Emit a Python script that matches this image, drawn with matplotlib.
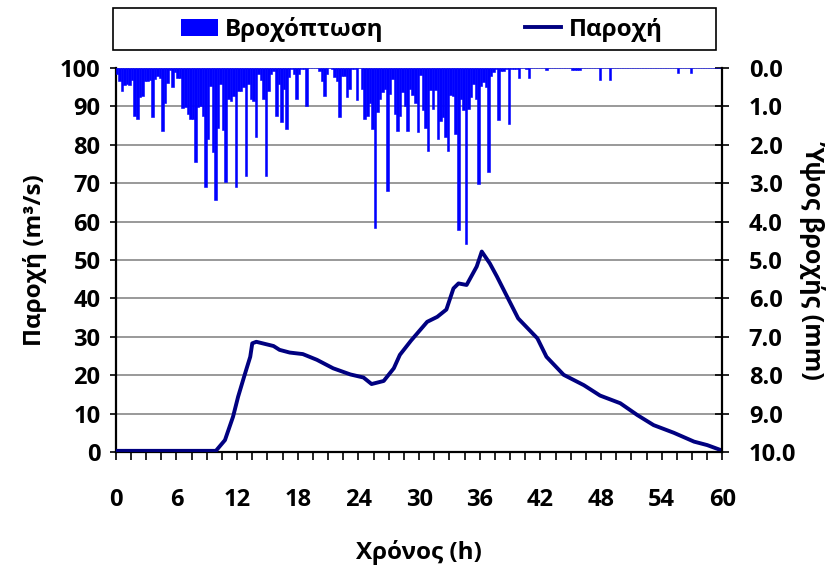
import matplotlib
matplotlib.use('Agg')
import matplotlib.pyplot as plt
import numpy as np
from matplotlib.patches import Rectangle, Patch
from matplotlib.lines import Line2D

plt.rcParams['font.family'] = ['Open Sans', 'DejaVu Sans']
plt.rcParams['font.weight'] = 'bold'

# rainfall depth (mm) every 0.25 h, 0 - 60 h
rain = [
    0.15, 0.35, 0.60, 0.45, 0.42, 0.44, 0.30, 1.24, 1.33, 0.75, 0.73, 0.33,
    0.33, 0.30, 1.27, 0.28, 0.20, 0.25, 1.65, 0.90, 0.40, 0.05, 0.50, 0.10,
    0.25, 0.25, 1.05, 1.02, 1.20, 1.33, 1.33, 2.46, 1.02, 0.98, 1.24, 3.10,
    1.85, 0.46, 2.20, 3.44, 1.55, 0.42, 1.61, 2.98, 0.82, 0.85, 0.72, 3.10,
    0.59, 0.60, 0.50, 2.82, 0.42, 0.80, 0.85, 1.79, 0.16, 0.31, 0.80, 2.80,
    0.60, 0.16, 0.07, 1.24, 0.42, 1.41, 0.55, 1.60, 0.23, 0.03, 0.16, 0.82,
    0.16, 0.03, 0.03, 0.98, 0.00, 0.00, 0.00, 0.00, 0.09, 0.35, 0.72, 0.16,
    0.00, 0.03, 0.24, 0.35, 1.27, 0.20, 0.20, 0.75, 0.55, 0.03, 0.03, 0.83,
    0.00, 0.55, 1.33, 1.24, 0.90, 1.59, 4.17, 1.15, 0.80, 0.63, 0.55, 3.19,
    0.68, 0.29, 1.20, 1.63, 1.24, 0.63, 0.98, 1.63, 0.55, 0.69, 0.92, 1.66,
    0.17, 1.10, 1.55, 2.15, 0.57, 1.07, 0.57, 1.85, 1.37, 1.27, 1.80, 2.17,
    0.70, 0.73, 1.72, 4.21, 0.80, 1.10, 4.58, 1.07, 0.76, 0.42, 0.80, 3.02,
    0.46, 0.37, 0.50, 2.72, 0.20, 0.11, 0.03, 1.35, 0.09, 0.09, 0.03, 1.46,
    0.03, 0.03, 0.03, 0.26, 0.00, 0.00, 0.03, 0.26, 0.00, 0.00, 0.00, 0.00,
    0.00, 0.00, 0.05, 0.00, 0.00, 0.00, 0.00, 0.00, 0.00, 0.00, 0.00, 0.00,
    0.05, 0.05, 0.05, 0.05, 0.00, 0.00, 0.00, 0.00, 0.00, 0.00, 0.00, 0.31,
    0.00, 0.00, 0.00, 0.31, 0.00, 0.00, 0.00, 0.00, 0.00, 0.00, 0.00, 0.00,
    0.00, 0.00, 0.00, 0.00, 0.00, 0.00, 0.00, 0.00, 0.00, 0.00, 0.00, 0.00,
    0.00, 0.00, 0.00, 0.00, 0.00, 0.00, 0.14, 0.00, 0.00, 0.00, 0.00, 0.14,
    0.00, 0.00, 0.00, 0.00, 0.00, 0.00, 0.00, 0.00, 0.00, 0.00, 0.00, 0.00,
]
rain_step = 0.25

# discharge (m3/s)
flow_t = [0, 9.9, 10.8, 11.6, 12.1, 12.6, 12.9, 13.3, 13.5, 13.9, 15.6, 16.2,
          17.2, 18.5, 19.9, 21.5, 23.2, 24.5, 25.3, 26.5, 27.5, 28.1, 29.2,
          30.8, 31.8, 32.7, 33.4, 33.9, 34.7, 35.7, 36.2, 37.0, 37.7, 38.7,
          39.8, 41.7, 42.6, 44.3, 46.3, 47.9, 49.9, 51.6, 53.2, 55.2, 57.2,
          58.5, 60]
flow_q = [0.3, 0.3, 3.1, 9.2, 14.4, 18.8, 21.4, 24.8, 28.3, 28.7, 27.6, 26.6,
          25.9, 25.5, 24.0, 21.8, 20.2, 19.4, 17.7, 18.5, 21.8, 25.3, 29.0,
          33.9, 35.2, 37.1, 42.6, 43.9, 43.5, 48.3, 52.2, 49.1, 45.7, 40.5,
          34.8, 29.6, 24.8, 20.1, 17.4, 14.7, 12.7, 9.6, 7.0, 5.0, 2.7,
          1.8, 0.35]

xticks = np.arange(0, 61, 6)
q_ticks = np.arange(0, 101, 10)
r_ticks = np.arange(0, 11, 1)

fig = plt.figure(figsize=(8.39, 5.71), dpi=100)
ax = fig.add_axes([0.138, 0.2084, 0.723, 0.6725])
ax2 = ax.twinx()

ax.plot(flow_t, flow_q, color='#000080', lw=2.8, zorder=3)
ax.set_xlim(0, 60)
ax.set_ylim(0, 100)
ax.set_yticks(q_ticks)
ax.set_xticks(xticks)
ax.set_xticks(np.arange(0, 60.1, 1.5), minor=True)
ax.grid(True, axis='y', color='#999999', lw=1.4, zorder=0)
ax.tick_params(axis='x', which='both', direction='out', length=6, width=1.2, pad=20, labelsize=17)
ax.tick_params(axis='y', direction='out', length=4, width=1.2, pad=7, labelsize=17)
for s in ['left', 'bottom']:
    ax.spines[s].set_linewidth(1.6)
ax.spines['top'].set_visible(False)
ax.spines['right'].set_visible(False)
ax.set_ylabel('Παροχή (m³/s)', fontsize=17.5, fontweight='bold', labelpad=9)
ax.set_xlabel('Χρόνος (h)', fontsize=17.5, fontweight='bold', labelpad=20)

t_rain = np.arange(len(rain)) * rain_step
ax2.bar(t_rain, rain, width=rain_step, align='edge', color='#0000ff',
        edgecolor='#0000ff', lw=0.4, zorder=2)
ax2.set_ylim(10, 0)
ax2.set_yticks(r_ticks)
ax2.set_yticklabels(['%.1f' % v for v in r_ticks])
ax2.tick_params(axis='y', direction='inout', length=10, width=1.2, pad=14, labelsize=17)
ax2.spines['right'].set_linewidth(1.6)
ax2.spines['top'].set_visible(False)
ax2.spines['left'].set_visible(False)
ax2.spines['bottom'].set_visible(False)
ax2.set_ylabel('Ύψος βροχής (mm)', fontsize=18, fontweight='bold', rotation=270, labelpad=22)

# legend with a wide frame
fig.patches.append(Rectangle((0.1347, 0.9124), 0.7187, 0.0736, transform=fig.transFigure,
                             fill=False, edgecolor='black', lw=1.2))
handles = [Patch(facecolor='#0000ff'), Line2D([0], [0], color='#000080', lw=2.8)]
fig.legend(handles, ['Βροχόπτωση', 'Παροχή'], loc='center', bbox_to_anchor=(0.503, 0.949),
           ncol=2, frameon=False, fontsize=17.5, handlelength=1.5, handletextpad=0.3,
           columnspacing=5.8)

fig.savefig('out.png', dpi=100)
